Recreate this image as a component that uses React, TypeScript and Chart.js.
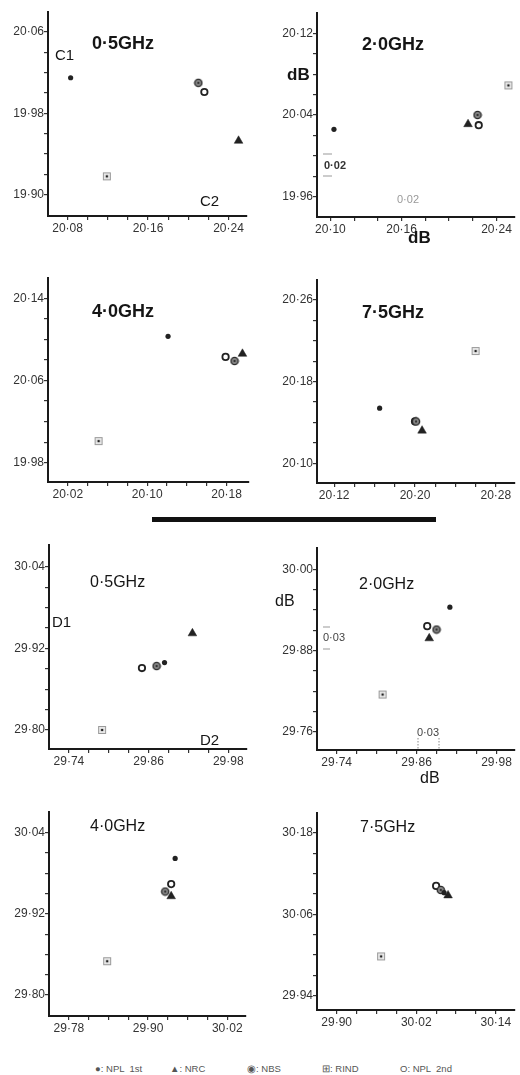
import React, { useEffect, useRef } from 'react';
import { Chart, registerables } from 'chart.js';

Chart.register(...registerables);

const FONT = '"Liberation Sans", Arial, sans-serif';

const FREQUENCIES = ['0·5GHz', '2·0GHz', '4·0GHz', '7·5GHz'];
const SERIES_NAMES = ['NPL 1st', 'NRC', 'NBS', 'RIND', 'NPL 2nd'];

// Attenuator C: x = C2 (dB), y = C1 (dB); one value per frequency
const C_X_NPL1 = [20.083, 20.103, 20.121, 20.165];
const C_Y_NPL1 = [20.015, 20.026, 20.103, 20.154];
const C_X_NRC = [20.25, 20.216, 20.196, 20.207];
const C_Y_NRC = [19.953, 20.031, 20.086, 20.132];
const C_X_NBS = [20.21, 20.224, 20.188, 20.201];
const C_Y_NBS = [20.01, 20.04, 20.079, 20.141];
const C_X_RIND = [20.119, 20.25, 20.051, 20.26];
const C_Y_RIND = [19.918, 20.069, 20.001, 20.21];
const C_X_NPL2 = [20.216, 20.225, 20.179, 20.2];
const C_Y_NPL2 = [20.001, 20.03, 20.083, 20.141];

// Attenuator D: x = D2 (dB), y = D1 (dB)
const D_X_NPL1 = [29.884, 29.91, 29.941, 30.062];
const D_Y_NPL1 = [29.899, 29.944, 30.002, 30.092];
const D_X_NRC = [29.926, 29.879, 29.935, 30.068];
const D_Y_NRC = [29.942, 29.898, 29.946, 30.088];
const D_X_NBS = [29.872, 29.89, 29.926, 30.057];
const D_Y_NBS = [29.894, 29.911, 29.953, 30.096];
const D_X_RIND = [29.79, 29.809, 29.838, 29.967];
const D_Y_RIND = [29.8, 29.815, 29.85, 29.998];
const D_X_NPL2 = [29.85, 29.876, 29.935, 30.05];
const D_Y_NPL2 = [29.891, 29.916, 29.964, 30.102];

// Axis ranges
const C_X_MIN = [20.0605, 20.0887, 20.0, 20.103];
const C_X_MAX = [20.2576, 20.2549, 20.2018, 20.2982];
const C_Y_MIN = [19.879, 19.9401, 19.9612, 20.0807];
const C_Y_MAX = [20.0797, 20.1399, 20.1598, 20.2796];
const D_X_MIN = [29.71, 29.7105, 29.7498, 29.8704];
const D_X_MAX = [30.007, 30.0066, 30.0472, 30.1677];
const D_Y_MIN = [29.772, 29.733, 29.769, 29.9189];
const D_Y_MAX = [30.0719, 30.0315, 30.0706, 30.2096];

// Tick labels
const C_X_LABELS = [[20.08, 20.16, 20.24], [20.1, 20.16, 20.24], [20.02, 20.1, 20.18], [20.12, 20.2, 20.28]];
const C_Y_LABELS = [[19.9, 19.98, 20.06], [19.96, 20.04, 20.12], [19.98, 20.06, 20.14], [20.1, 20.18, 20.26]];
const D_X_LABELS = [[29.74, 29.86, 29.98], [29.74, 29.86, 29.98], [29.78, 29.9, 30.02], [29.9, 30.02, 30.14]];
const D_Y_LABELS = [[29.8, 29.92, 30.04], [29.76, 29.88, 30.0], [29.8, 29.92, 30.04], [29.94, 30.06, 30.18]];
const C_STEP = 0.02;
const D_STEP = 0.03;

// Layout: chart areas [left, top, right, bottom] in page pixels
const C_AREAS = [[48, 12, 250, 216], [317, 13, 518, 217], [48, 278, 252, 482], [317, 280, 518, 483]];
const D_AREAS = [[49, 545, 250, 749], [317, 548, 518, 750], [49, 812, 249, 1016], [317, 813, 518, 1010]];

type Note = { t: string; x: number; y: number; f: string; c?: string };
type Seg = { x1: number; y1: number; x2: number; y2: number; dash?: number[]; c?: string };

const B18 = `bold 18px ${FONT}`;
const B17 = `bold 17px ${FONT}`;
const R16 = `16px ${FONT}`;
const R15 = `15px ${FONT}`;

const C_NOTES: Note[][] = [
  [{ t: FREQUENCIES[0], x: 92, y: 44, f: B18 }, { t: 'C1', x: 55, y: 56, f: R15 }, { t: 'C2', x: 200, y: 202, f: R15 }],
  [
    { t: FREQUENCIES[1], x: 362, y: 45, f: B18 },
    { t: 'dB', x: 287, y: 75, f: B17 },
    { t: '0·02', x: 324, y: 166, f: `bold 11px ${FONT}`, c: '#333' },
    { t: '0·02', x: 397, y: 200, f: `11px ${FONT}`, c: '#999' },
    { t: 'dB', x: 408, y: 238, f: B17 },
  ],
  [{ t: FREQUENCIES[2], x: 92, y: 312.5, f: B18 }],
  [{ t: FREQUENCIES[3], x: 362, y: 313, f: B18 }],
];
const C_SEGS: Seg[][] = [
  [],
  [{ x1: 323, y1: 154, x2: 332, y2: 154, c: '#999' }, { x1: 323, y1: 176, x2: 332, y2: 176, c: '#999' }],
  [],
  [],
];
const D_NOTES: Note[][] = [
  [{ t: '0·5GHz', x: 90, y: 583, f: R16 }, { t: 'D1', x: 52, y: 623, f: R15 }, { t: 'D2', x: 200, y: 741, f: R15 }],
  [
    { t: '2·0GHz', x: 359, y: 585, f: R16 },
    { t: 'dB', x: 275, y: 601.5, f: R16 },
    { t: '0·03', x: 323, y: 638, f: `11px ${FONT}`, c: '#444' },
    { t: '0·03', x: 417, y: 733, f: `11px ${FONT}`, c: '#444' },
    { t: 'dB', x: 420, y: 779, f: R16 },
  ],
  [{ t: '4·0GHz', x: 90, y: 826.7, f: R16 }],
  [{ t: '7·5GHz', x: 360, y: 827.5, f: R16 }],
];
const D_SEGS: Seg[][] = [
  [],
  [
    { x1: 323, y1: 627, x2: 330, y2: 627, c: '#999' },
    { x1: 323, y1: 649, x2: 330, y2: 649, c: '#999' },
    { x1: 418, y1: 738, x2: 418, y2: 750, dash: [1.5, 1.5], c: '#888' },
    { x1: 439, y1: 738, x2: 439, y2: 750, dash: [1.5, 1.5], c: '#888' },
  ],
  [],
  [],
];

function makeMarker(kind: 'nbs' | 'rind'): HTMLCanvasElement {
  const c = document.createElement('canvas');
  c.width = 10;
  c.height = 10;
  const g = c.getContext('2d')!;
  if (kind === 'nbs') {
    g.beginPath();
    g.arc(5, 5, 3.6, 0, Math.PI * 2);
    g.fillStyle = '#8a8a8a';
    g.fill();
    g.lineWidth = 1.4;
    g.strokeStyle = '#2a2a2a';
    g.stroke();
    g.beginPath();
    g.arc(5, 5, 1.2, 0, Math.PI * 2);
    g.fillStyle = '#333';
    g.fill();
  } else {
    g.fillStyle = '#e8e8e8';
    g.fillRect(1, 1, 8, 8);
    g.strokeStyle = '#9a9a9a';
    g.lineWidth = 1;
    g.strokeRect(1.5, 1.5, 7, 7);
    g.beginPath();
    g.arc(5, 5, 1.3, 0, Math.PI * 2);
    g.fillStyle = '#222';
    g.fill();
  }
  return c;
}

type PanelCfg = {
  area: number[];
  xMin: number; xMax: number; yMin: number; yMax: number;
  xLabels: number[]; yLabels: number[]; step: number;
  xs: number[]; ys: number[]; // per series (NPL1, NRC, NBS, RIND, NPL2)
  notes: Note[]; segs: Seg[];
};

const fmt = (v: number) => v.toFixed(2).replace('.', '·');
const tickRange = (lo: number, hi: number, step: number) => {
  const out: number[] = [];
  const n = Math.round((hi - lo) / step);
  for (let i = 0; i <= n; i++) out.push(Math.round((lo + i * step) * 1000) / 1000);
  return out;
};

const PAD_L = 48, PAD_T = 12, PAD_R = 2, PAD_B = 20, X_H = 24;

function Panel({ cfg }: { cfg: PanelCfg }) {
  const ref = useRef<HTMLCanvasElement>(null);
  const [L, T, R, B] = cfg.area;
  const ox = L - PAD_L, oy = T - PAD_T;
  const w = R - L + PAD_L + PAD_R;
  const h = B - T + PAD_T + X_H + PAD_B;

  useEffect(() => {
    if (!ref.current) return;
    const nbs = makeMarker('nbs');
    const rind = makeMarker('rind');
    const xt = tickRange(cfg.xLabels[0], cfg.xLabels[cfg.xLabels.length - 1], cfg.step);
    const yt = tickRange(cfg.yLabels[0], cfg.yLabels[cfg.yLabels.length - 1], cfg.step);
    const isLab = (arr: number[], v: number) => arr.some((l) => Math.abs(l - v) < 1e-6);
    const styles: any[] = [
      { pointStyle: 'circle', pointRadius: 2.6, pointBackgroundColor: '#222', pointBorderWidth: 0 },
      { pointStyle: 'triangle', pointRadius: 5, pointBackgroundColor: '#222', pointBorderColor: '#222', pointBorderWidth: 0.5 },
      { pointStyle: nbs, pointRadius: 4 },
      { pointStyle: rind, pointRadius: 4 },
      { pointStyle: 'circle', pointRadius: 3.2, pointBackgroundColor: '#fff', pointBorderColor: '#222', pointBorderWidth: 1.8 },
    ];
    const notesPlugin = {
      id: 'notes',
      afterDraw(chart: any) {
        const ctx = chart.ctx;
        ctx.save();
        for (const s of cfg.segs) {
          ctx.beginPath();
          ctx.setLineDash(s.dash || []);
          ctx.strokeStyle = s.c || '#333';
          ctx.lineWidth = 1;
          ctx.moveTo(s.x1 - ox, s.y1 - oy);
          ctx.lineTo(s.x2 - ox, s.y2 - oy);
          ctx.stroke();
        }
        ctx.setLineDash([]);
        ctx.textAlign = 'left';
        ctx.textBaseline = 'middle';
        for (const n of cfg.notes) {
          ctx.font = n.f;
          ctx.fillStyle = n.c || '#151515';
          ctx.fillText(n.t, n.x - ox, n.y - oy);
        }
        ctx.restore();
      },
    };
    const tickFont = { family: FONT, size: 12 };
    const chart = new Chart(ref.current, {
      type: 'scatter',
      data: {
        datasets: SERIES_NAMES.map((name, i) => ({
          label: name,
          data: [{ x: cfg.xs[i], y: cfg.ys[i] }],
          clip: false as any,
          ...styles[i],
        })),
      },
      options: {
        animation: false,
        responsive: false,
        events: [],
        layout: { padding: { left: 0, top: PAD_T, right: PAD_R, bottom: PAD_B } },
        plugins: { legend: { display: false }, tooltip: { enabled: false } },
        scales: {
          x: {
            type: 'linear',
            position: 'bottom',
            min: cfg.xMin,
            max: cfg.xMax,
            bounds: 'data',
            afterBuildTicks: (axis: any) => { axis.ticks = xt.map((v) => ({ value: v })); },
            afterFit: (axis: any) => { axis.height = X_H; },
            border: { display: true, color: '#1a1a1a', width: 2 },
            grid: { display: true, drawOnChartArea: false, drawTicks: true, tickLength: 4, color: '#333', lineWidth: 1.2 },
            ticks: {
              autoSkip: false,
              maxRotation: 0,
              padding: 1,
              color: '#333',
              font: tickFont,
              callback: (v: any) => (isLab(cfg.xLabels, Number(v)) ? fmt(Number(v)) : ''),
            },
          },
          y: {
            type: 'linear',
            position: 'left',
            min: cfg.yMin,
            max: cfg.yMax,
            bounds: 'data',
            afterBuildTicks: (axis: any) => { axis.ticks = yt.map((v) => ({ value: v })); },
            afterFit: (axis: any) => { axis.width = PAD_L; },
            border: { display: true, color: '#1a1a1a', width: 2 },
            grid: { display: true, drawOnChartArea: false, drawTicks: true, tickLength: 4, color: '#333', lineWidth: 1.2 },
            ticks: {
              autoSkip: false,
              padding: 0,
              color: '#333',
              font: tickFont,
              callback: (v: any) => (isLab(cfg.yLabels, Number(v)) ? fmt(Number(v)) : ''),
            },
          },
        },
      } as any,
      plugins: [notesPlugin],
    });
    return () => chart.destroy();
  }, []);

  return (
    <canvas
      ref={ref}
      width={w}
      height={h}
      style={{ position: 'absolute', left: ox, top: oy, width: w, height: h }}
    />
  );
}

function buildPanels(): PanelCfg[] {
  const out: PanelCfg[] = [];
  for (let k = 0; k < 4; k++) {
    out.push({
      area: C_AREAS[k],
      xMin: C_X_MIN[k], xMax: C_X_MAX[k], yMin: C_Y_MIN[k], yMax: C_Y_MAX[k],
      xLabels: C_X_LABELS[k], yLabels: C_Y_LABELS[k], step: C_STEP,
      xs: [C_X_NPL1[k], C_X_NRC[k], C_X_NBS[k], C_X_RIND[k], C_X_NPL2[k]],
      ys: [C_Y_NPL1[k], C_Y_NRC[k], C_Y_NBS[k], C_Y_RIND[k], C_Y_NPL2[k]],
      notes: C_NOTES[k], segs: C_SEGS[k],
    });
  }
  for (let k = 0; k < 4; k++) {
    out.push({
      area: D_AREAS[k],
      xMin: D_X_MIN[k], xMax: D_X_MAX[k], yMin: D_Y_MIN[k], yMax: D_Y_MAX[k],
      xLabels: D_X_LABELS[k], yLabels: D_Y_LABELS[k], step: D_STEP,
      xs: [D_X_NPL1[k], D_X_NRC[k], D_X_NBS[k], D_X_RIND[k], D_X_NPL2[k]],
      ys: [D_Y_NPL1[k], D_Y_NRC[k], D_Y_NBS[k], D_Y_RIND[k], D_Y_NPL2[k]],
      notes: D_NOTES[k], segs: D_SEGS[k],
    });
  }
  return out;
}

const LEGEND_SYMBOLS = ['●', '▲', '◉', '⊞', 'O'];
const LEGEND_LEFT = [95, 170, 247, 322, 400];

export default function App() {
  const panels = buildPanels();
  return (
    <div
      style={{
        position: 'absolute',
        left: 0,
        top: 0,
        width: 520,
        height: 1075,
        overflow: 'hidden',
        background: '#fff',
        fontFamily: FONT,
      }}
    >
      {panels.map((p, i) => (
        <Panel key={i} cfg={p} />
      ))}
      <div style={{ position: 'absolute', left: 152, top: 517, width: 284, height: 5, background: '#111' }} />
      {SERIES_NAMES.map((name, i) => (
        <div
          key={name}
          style={{
            position: 'absolute',
            left: LEGEND_LEFT[i],
            top: 1063,
            fontSize: 9.5,
            lineHeight: '12px',
            color: '#555',
            whiteSpace: 'pre',
          }}
        >
          {LEGEND_SYMBOLS[i] + ': ' + name.replace(' ', '  ')}
        </div>
      ))}
    </div>
  );
}
